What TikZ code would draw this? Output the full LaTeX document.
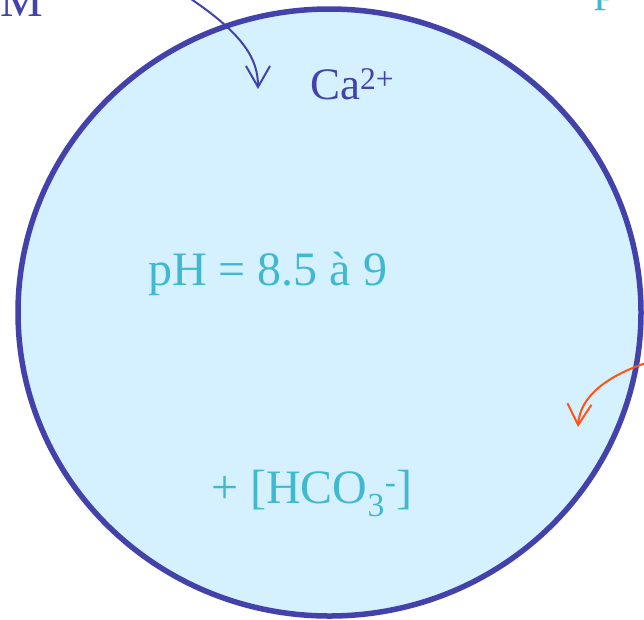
\documentclass[tikz,border=0pt]{standalone}
\usepackage{fontspec}
\setmainfont{Liberation Serif}
\usetikzlibrary{arrows.meta}
\definecolor{cellblue}{RGB}{66,66,170}
\definecolor{cellfill}{RGB}{213,240,255}
\definecolor{textcyan}{RGB}{64,185,208}
\definecolor{arroworange}{RGB}{255,85,20}
\tikzset{
  lbl/.style={inner sep=0pt, anchor=base west, font=\fontsize{48}{52}\selectfont},
  barb/.style={-{Straight Barb[length=21pt,width=24pt,line width=2pt]}, line width=2pt},
}
\begin{document}
\begin{tikzpicture}[x=1pt,y=-1pt]
\useasboundingbox (0,0) rectangle (644,619);
\draw[cellblue, fill=cellfill, line width=5.5pt] (329.5,312.5) ellipse [x radius=311.5, y radius=303.5];
\node[lbl, text=cellblue, font=\fontsize{45}{50}\selectfont] (ca) at (310,99) {Ca\textsuperscript{2+}};
\node[lbl, text=textcyan] (ph) at (148,285) {pH = 8.5 à 9};
\node[lbl, text=textcyan] (hco) at (211,503) {+ [HCO\textsubscript{3}\textsuperscript{-}]};
\node[lbl, text=cellblue, anchor=base east] (m) at (43,16) {M};
\node[lbl, text=textcyan] (p) at (594,0) {p};
\coordinate (a1s) at (188,-3);
\coordinate (a1e) at (258,89);
\coordinate (a2s) at (646,363);
\coordinate (a2e) at (578,427);
\draw[barb, cellblue] (a1s) .. controls (245,35) and (258,60) .. (a1e);
\draw[barb, arroworange] (a2s) .. controls (610,375) and (580,395) .. (a2e);
\end{tikzpicture}
\end{document}
